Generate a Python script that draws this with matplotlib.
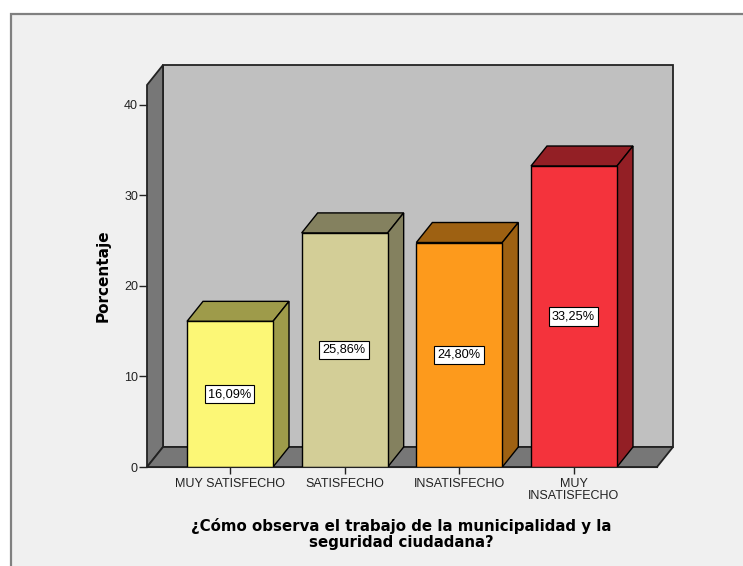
import matplotlib
matplotlib.use('Agg')
import matplotlib.pyplot as plt
from matplotlib.patches import Rectangle

plt.rcParams['font.family'] = ['Liberation Sans', 'DejaVu Sans']

categories = ['MUY SATISFECHO', 'SATISFECHO', 'INSATISFECHO', 'MUY\nINSATISFECHO']
values = [16.09, 25.86, 24.80, 33.25]
labels = ['16,09%', '25,86%', '24,80%', '33,25%']
yticks = [0, 10, 20, 30, 40]

front_colors = ['#fcf776', '#d3ce97', '#fd9a1c', '#f4333c']
dark_colors = ['#9e9b4a', '#84815f', '#9e6112', '#931f25']

W, H = 743, 566
fig = plt.figure(figsize=(W / 100, H / 100), dpi=100, facecolor='white')

# grey panel behind the chart, open on the right and at the bottom
fig.add_artist(Rectangle((10.5 / W, -0.1), 1, 1 - 14 / H + 0.1, transform=fig.transFigure,
                         facecolor='#f0f0f0', edgecolor='#808080', linewidth=1.6, zorder=-1))

# axes = front plane of the 3D box
ax = fig.add_axes([147 / W, 1 - 467 / H, 510 / W, 382 / H])
ax.set_xlim(-0.724, 3.724)
ax.set_ylim(0, 42.2)
ax.patch.set_visible(False)

# depth of the box in data units
dx = 16 / 510 * (ax.get_xlim()[1] - ax.get_xlim()[0])
dy = 20 / 382 * ax.get_ylim()[1]
x0, x1 = ax.get_xlim()
y1 = ax.get_ylim()[1]
edge = '#222222'

# back wall, left wall, floor
ax.fill([x0 + dx, x1 + dx, x1 + dx, x0 + dx], [dy, dy, y1 + dy, y1 + dy],
        facecolor='#c0c0c0', edgecolor=edge, linewidth=1.3, clip_on=False, zorder=1)
ax.fill([x0, x0 + dx, x0 + dx, x0], [0, dy, y1 + dy, y1],
        facecolor='#777777', edgecolor=edge, linewidth=1.3, clip_on=False, zorder=1)
ax.fill([x0, x1, x1 + dx, x0 + dx], [0, 0, dy, dy],
        facecolor='#777777', edgecolor=edge, linewidth=1.3, clip_on=False, zorder=1)

# 3D bars
bw = 0.75
for i, v in enumerate(values):
    left, right = i - bw / 2, i + bw / 2
    ax.fill([left, right, right + dx, left + dx], [v, v, v + dy, v + dy],
            facecolor=dark_colors[i], edgecolor='black', linewidth=1.0, clip_on=False, zorder=2)
    ax.fill([right, right + dx, right + dx, right], [0, dy, v + dy, v],
            facecolor=dark_colors[i], edgecolor='black', linewidth=1.0, clip_on=False, zorder=2)
    ax.bar(i, v, width=bw, color=front_colors[i], edgecolor='black', linewidth=1.0, zorder=3)
    ax.text(i - 0.005, v / 2, labels[i], ha='center', va='center', fontsize=9.2, color='black', zorder=4,
            bbox=dict(boxstyle='square,pad=0.25', facecolor='white', edgecolor='black', linewidth=0.8))

for s in ['top', 'right']:
    ax.spines[s].set_visible(False)
ax.spines['left'].set_visible(False)
ax.spines['bottom'].set_color(edge)
ax.spines['bottom'].set_zorder(5)

ax.set_yticks(yticks)
ax.set_xticks(range(len(categories)))
ax.set_xticklabels(categories, fontsize=9.0, color='#222222', linespacing=0.95)
ax.tick_params(axis='x', length=5, width=1, color=edge, pad=3)
ax.tick_params(axis='y', length=6, width=1, color=edge, pad=0.5, labelsize=9, labelcolor='#222222')

fig.text(401 / W, 1 - 534 / H, '¿Cómo observa el trabajo de la municipalidad y la\nseguridad ciudadana?',
         ha='center', va='center', fontsize=10.85, fontweight='bold', family='DejaVu Sans',
         color='black', linespacing=1.05)
fig.text(103 / W, 1 - 275.5 / H, 'Porcentaje', ha='center', va='center', rotation=90,
         fontsize=11, fontweight='bold', family='DejaVu Sans', color='black')

fig.savefig('out.png', dpi=100)
